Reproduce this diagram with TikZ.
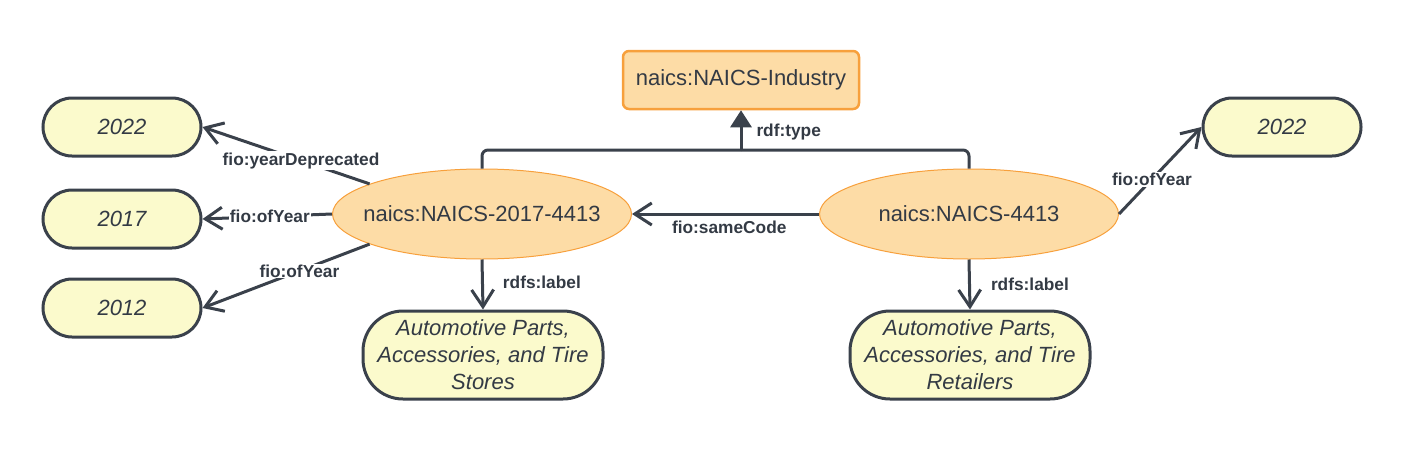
\documentclass[tikz,border=0pt]{standalone}
\usepackage{fontspec}
\setmainfont{Liberation Sans}
\usetikzlibrary{shapes.geometric,arrows.meta}
\definecolor{ink}{HTML}{3A414B}
\definecolor{txt}{HTML}{333A44}
\definecolor{orfill}{HTML}{FDDCA6}
\definecolor{orline}{HTML}{F7A03C}
\definecolor{yfill}{HTML}{FBFACC}
\tikzset{
  ell/.style={ellipse, draw=orline, line width=1pt, fill=orfill, minimum width=299pt, minimum height=90pt, inner sep=0pt},
  elltext/.style={text=txt, font=\fontsize{22}{26}\selectfont, inner sep=0pt},
  clsbox/.style={rectangle, rounded corners=6pt, draw=orline, line width=2.5pt, fill=orfill, minimum width=236pt, minimum height=58pt, inner sep=0pt, text=txt, font=\fontsize{22}{26}\selectfont},
  yearbox/.style={rectangle, rounded corners=29pt, draw=ink, line width=3pt, fill=yfill, minimum width=158pt, minimum height=58pt, inner sep=0pt, text=txt, font=\itshape\fontsize{22}{26}\selectfont},
  litbox/.style={rectangle, rounded corners=40pt, draw=ink, line width=3pt, fill=yfill, minimum width=240pt, minimum height=88pt, inner sep=0pt, align=center, text=txt, font=\itshape\fontsize{22}{27}\selectfont},
  edge/.style={draw=ink, line width=3pt, -{Straight Barb[length=17pt,width=22pt,line width=3pt]}},
  typeedge/.style={draw=ink, line width=3pt, rounded corners=6pt},
  elbl/.style={text=txt, font=\bfseries\fontsize{17.3}{20}\selectfont, inner sep=1pt},
  onlbl/.style={elbl, fill=white},
}
\begin{document}
\begin{tikzpicture}[x=1pt,y=-1pt]
\useasboundingbox (0,0) rectangle (1413,453);
\node[clsbox] (ind) at (741,80) {naics:NAICS-Industry};
\node[ell, label={[elltext]center:naics:NAICS-2017-4413}] (old) at (482,214) {};
\node[ell, label={[elltext]center:naics:NAICS-4413}] (new) at (969,214) {};
\node[yearbox] (y22) at (122,127) {2022};
\node[yearbox] (y17) at (122,219) {2017};
\node[yearbox] (y12) at (122,308) {2012};
\node[yearbox] (ny22) at (1282,127) {2022};
\node[litbox] (oldlbl) at (483,355) {Automotive Parts,\\Accessories, and Tire\\Stores};
\node[litbox] (newlbl) at (970,355) {Automotive Parts,\\Accessories, and Tire\\Retailers};
\coordinate (j) at (741,150);
% rdf:type
\draw[typeedge] (old.north) |- (j);
\draw[typeedge] (new.north) |- (j);
\draw[draw=ink, line width=3pt, -{Triangle[length=17pt,width=21pt]}] (j) -- (ind.south)
  node[elbl, pos=0.45, right=13pt] {rdf:type};
% sameCode
\draw[edge] (new.west) -- (old.east) node[elbl, pos=0.48, below=4pt] {fio:sameCode};
% years
\draw[edge] (old.165) -- (y22.east) node[onlbl, pos=0.41] {fio:yearDeprecated};
\draw[edge] (old.west) -- (y17.east) node[onlbl, pos=0.48] {fio:ofYear};
\draw[edge] (old.195) -- (y12.east) node[onlbl, pos=0.42] {fio:ofYear};
\draw[edge] (new.east) -- (ny22.west) node[onlbl, pos=0.4] {fio:ofYear};
% labels
\draw[edge] (old.south) -- (oldlbl.north) node[elbl, pos=0.45, right=18pt] {rdfs:label};
\draw[edge] (new.south) -- (newlbl.north) node[elbl, pos=0.5, right=19pt] {rdfs:label};
\end{tikzpicture}
\end{document}
